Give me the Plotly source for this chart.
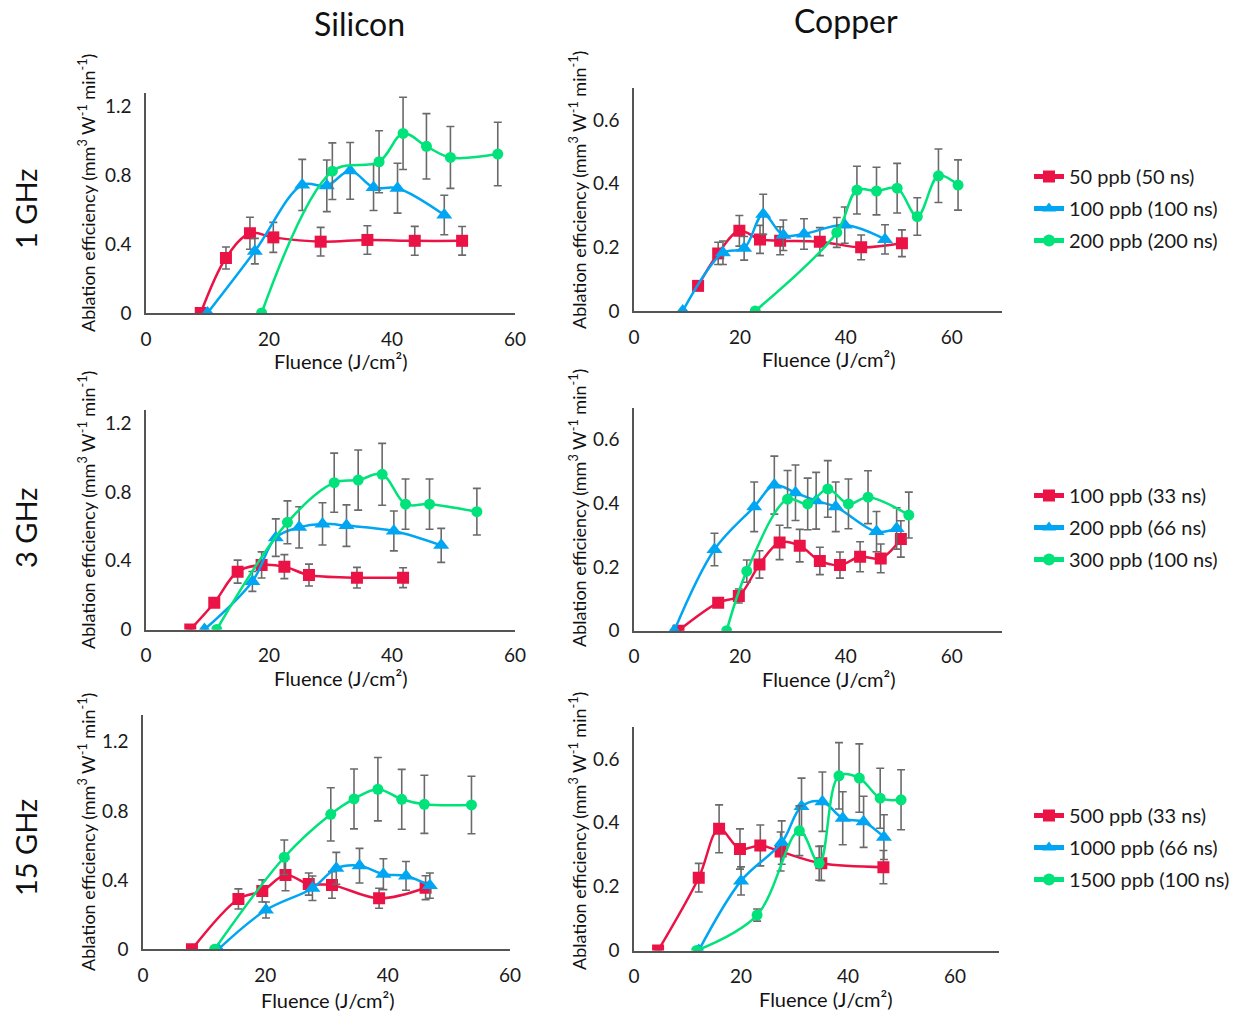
import plotly.graph_objects as go

W, H = 1235, 1017
FONT = "Lato"
RED, BLUE, GREEN = "#EB1245", "#00A6F2", "#00E27A"

# ---------------- data ----------------
# Silicon 1 GHz
si1_red_x = [8.9, 13.0, 16.9, 20.7, 28.4, 36.0, 43.7, 51.4]
si1_red_y = [0.0, 0.32, 0.464, 0.44, 0.415, 0.425, 0.42, 0.42]
si1_red_e = [0, 0.064, 0.093, 0.087, 0.083, 0.083, 0.084, 0.083]
si1_blue_x = [10.0, 17.7, 25.4, 29.4, 33.2, 37.0, 40.9, 48.5]
si1_blue_y = [0.0, 0.36, 0.745, 0.74, 0.827, 0.73, 0.726, 0.57]
si1_blue_e = [0, 0.074, 0.149, 0.15, 0.165, 0.134, 0.145, 0.115]
si1_green_x = [18.8, 30.3, 37.9, 41.8, 45.6, 49.5, 57.2]
si1_green_y = [0.0, 0.825, 0.88, 1.045, 0.97, 0.905, 0.925]
si1_green_e = [0, 0.165, 0.18, 0.21, 0.19, 0.18, 0.185]

# Copper 1 GHz
cu1_red_x = [12.1, 15.9, 19.9, 23.8, 27.6, 35.1, 42.9, 50.6]
cu1_red_y = [0.079, 0.181, 0.252, 0.225, 0.221, 0.218, 0.2, 0.213]
cu1_red_e = [0, 0.035, 0.048, 0.044, 0.044, 0.044, 0.039, 0.042]
cu1_blue_x = [9.2, 16.8, 20.8, 24.4, 28.2, 32.1, 39.8, 47.4]
cu1_blue_y = [0.0, 0.183, 0.197, 0.304, 0.238, 0.242, 0.27, 0.225]
cu1_blue_e = [0, 0.037, 0.037, 0.063, 0.048, 0.048, 0.057, 0.046]
cu1_green_x = [22.9, 38.3, 42.1, 45.8, 49.7, 53.5, 57.5, 61.2]
cu1_green_y = [0.0, 0.247, 0.38, 0.377, 0.386, 0.297, 0.425, 0.396]
cu1_green_e = [0, 0.047, 0.075, 0.075, 0.078, 0.059, 0.084, 0.079]

# Silicon 3 GHz
si3_red_x = [7.2, 11.1, 14.9, 18.8, 22.5, 26.5, 34.3, 41.8]
si3_red_y = [0.0, 0.156, 0.337, 0.376, 0.366, 0.317, 0.302, 0.302]
si3_red_e = [0, 0, 0.067, 0.076, 0.07, 0.064, 0.06, 0.058]
si3_blue_x = [9.5, 17.3, 21.1, 24.9, 28.7, 32.6, 40.3, 48.0]
si3_blue_y = [0.0, 0.28, 0.535, 0.595, 0.615, 0.605, 0.574, 0.49]
si3_blue_e = [0, 0.058, 0.109, 0.12, 0.123, 0.121, 0.116, 0.099]
si3_green_x = [11.5, 23.0, 30.6, 34.5, 38.4, 42.2, 46.1, 53.8]
si3_green_y = [0.0, 0.624, 0.855, 0.87, 0.904, 0.73, 0.73, 0.686]
si3_green_e = [0, 0.125, 0.172, 0.175, 0.18, 0.146, 0.146, 0.136]

# Copper 3 GHz
cu3_red_x = [8.4, 15.9, 19.8, 23.7, 27.5, 31.3, 35.1, 38.9, 42.7, 46.6, 50.4]
cu3_red_y = [0.0, 0.088, 0.109, 0.208, 0.277, 0.267, 0.219, 0.206, 0.232, 0.227, 0.288]
cu3_red_e = [0, 0, 0.022, 0.043, 0.054, 0.051, 0.043, 0.041, 0.047, 0.045, 0.057]
cu3_blue_x = [7.6, 15.2, 22.7, 26.5, 30.5, 34.4, 38.1, 45.8, 49.6]
cu3_blue_y = [0.0, 0.255, 0.389, 0.457, 0.433, 0.408, 0.389, 0.311, 0.321]
cu3_blue_e = [0, 0.051, 0.078, 0.091, 0.087, 0.089, 0.078, 0.063, 0.065]
cu3_green_x = [17.5, 21.3, 29.0, 32.8, 36.6, 40.5, 44.2, 51.9]
cu3_green_y = [0.0, 0.187, 0.413, 0.398, 0.445, 0.398, 0.419, 0.363]
cu3_green_e = [0, 0.035, 0.09, 0.081, 0.089, 0.078, 0.083, 0.072]

# Silicon 15 GHz
si15_red_x = [8.0, 15.6, 19.5, 23.3, 27.1, 30.9, 38.6, 46.2]
si15_red_y = [0.0, 0.291, 0.337, 0.429, 0.377, 0.372, 0.295, 0.356]
si15_red_e = [0, 0.058, 0.064, 0.091, 0.064, 0.077, 0.058, 0.069]
si15_blue_x = [12.3, 20.1, 27.7, 31.6, 35.4, 39.3, 43.0, 46.9]
si15_blue_y = [0.0, 0.227, 0.353, 0.468, 0.483, 0.434, 0.424, 0.368]
si15_blue_e = [0, 0.046, 0.071, 0.092, 0.1, 0.089, 0.083, 0.073]
si15_green_x = [11.7, 23.1, 30.7, 34.5, 38.4, 42.3, 46.0, 53.7]
si15_green_y = [0.0, 0.532, 0.78, 0.869, 0.925, 0.867, 0.838, 0.834]
si15_green_e = [0, 0.1, 0.154, 0.173, 0.183, 0.173, 0.168, 0.166]

# Copper 15 GHz
cu15_red_x = [4.5, 12.1, 15.9, 19.8, 23.6, 27.4, 35.0, 46.6]
cu15_red_y = [0.0, 0.228, 0.381, 0.318, 0.329, 0.31, 0.273, 0.261]
cu15_red_e = [0, 0.045, 0.075, 0.063, 0.064, 0.061, 0.054, 0.052]
cu15_blue_x = [12.1, 20.0, 27.6, 31.3, 35.2, 39.0, 42.9, 46.7]
cu15_blue_y = [0.0, 0.218, 0.338, 0.451, 0.466, 0.414, 0.403, 0.355]
cu15_blue_e = [0, 0.044, 0.068, 0.089, 0.093, 0.083, 0.08, 0.07]
cu15_green_x = [11.7, 23.0, 30.9, 34.6, 38.3, 42.1, 46.0, 49.9]
cu15_green_y = [0.0, 0.111, 0.375, 0.273, 0.547, 0.54, 0.477, 0.472]
cu15_green_e = [0, 0.019, 0.078, 0.053, 0.104, 0.107, 0.094, 0.094]

names_row1 = ["50 ppb (50 ns)", "100 ppb (100 ns)", "200 ppb (200 ns)"]
names_row2 = ["100 ppb (33 ns)", "200 ppb (66 ns)", "300 ppb (100 ns)"]
names_row3 = ["500 ppb (33 ns)", "1000 ppb (66 ns)", "1500 ppb (100 ns)"]

col_titles = ["Silicon", "Copper"]
row_titles = ["1 GHz", "3 GHz", "15 GHz"]
si_ticks = [0, 0.4, 0.8, 1.2]
si_ticktext = ["0", "0.4", "0.8", "1.2"]
cu_ticks = [0, 0.2, 0.4, 0.6]
cu_ticktext = ["0", "0.2", "0.4", "0.6"]
x_ticks = [0, 20, 40, 60]

# ---------------- layout helpers ----------------
def px_x(p):
    return p / W

def px_y(p):
    return 1 - p / H

panels = [
    dict(xd=(146, 515), yd=(93, 313), xr=[0, 60], yr=[0, 1.28], yt=si_ticks, ytt=si_ticktext),
    dict(xd=(634, 1002), yd=(88.3, 311), xr=[0, 69.5], yr=[0, 0.7], yt=cu_ticks, ytt=cu_ticktext),
    dict(xd=(146, 515), yd=(409.7, 629.5), xr=[0, 60], yr=[0, 1.28], yt=si_ticks, ytt=si_ticktext),
    dict(xd=(634, 1002), yd=(407.7, 630.7), xr=[0, 69.5], yr=[0, 0.7], yt=cu_ticks, ytt=cu_ticktext),
    dict(xd=(143, 510), yd=(715, 949.3), xr=[0, 60], yr=[0, 1.354], yt=si_ticks, ytt=si_ticktext),
    dict(xd=(634, 999), yd=(727, 950.5), xr=[0, 68.2], yr=[0, 0.7], yt=cu_ticks, ytt=cu_ticktext),
]

series = [
    [(si1_red_x, si1_red_y, si1_red_e), (si1_blue_x, si1_blue_y, si1_blue_e), (si1_green_x, si1_green_y, si1_green_e)],
    [(cu1_red_x, cu1_red_y, cu1_red_e), (cu1_blue_x, cu1_blue_y, cu1_blue_e), (cu1_green_x, cu1_green_y, cu1_green_e)],
    [(si3_red_x, si3_red_y, si3_red_e), (si3_blue_x, si3_blue_y, si3_blue_e), (si3_green_x, si3_green_y, si3_green_e)],
    [(cu3_red_x, cu3_red_y, cu3_red_e), (cu3_blue_x, cu3_blue_y, cu3_blue_e), (cu3_green_x, cu3_green_y, cu3_green_e)],
    [(si15_red_x, si15_red_y, si15_red_e), (si15_blue_x, si15_blue_y, si15_blue_e), (si15_green_x, si15_green_y, si15_green_e)],
    [(cu15_red_x, cu15_red_y, cu15_red_e), (cu15_blue_x, cu15_blue_y, cu15_blue_e), (cu15_green_x, cu15_green_y, cu15_green_e)],
]
row_names = [names_row1, names_row2, names_row3]
legend_ids = ["legend", "legend2", "legend3"]

colors = [RED, BLUE, GREEN]
symbols = ["square", "triangle-up", "circle"]
msizes = [12, 14, 11]
TXT = "#1a1a1a"
TICK_SIZE = 19

fig = go.Figure()
layout = dict(
    width=W, height=H, margin=dict(l=0, r=0, t=0, b=0, pad=0, autoexpand=False),
    paper_bgcolor="white", plot_bgcolor="white",
    font=dict(family=FONT, size=TICK_SIZE, color=TXT),
)

for i, p in enumerate(panels):
    ax = "" if i == 0 else str(i + 1)
    row = i // 2
    is_si = (i % 2 == 0)
    for k, (xs, ys, es) in enumerate(series[i]):
        fig.add_trace(go.Scatter(
            x=xs, y=ys, mode="lines+markers",
            name=row_names[row][k],
            legend=legend_ids[row],
            legendgroup=f"r{row}k{k}",
            showlegend=is_si,
            line=dict(color=colors[k], width=2.5, shape="spline", smoothing=1.0),
            marker=dict(symbol=symbols[k], size=msizes[k], color=colors[k]),
            error_y=dict(type="data", array=es, visible=True, color="#6a6a6a", thickness=1.6, width=4),
            xaxis="x" + ax, yaxis="y" + ax,
        ))
    layout["xaxis" + ax] = dict(
        domain=[px_x(p["xd"][0]), px_x(p["xd"][1])], range=p["xr"],
        anchor="y" + ax, tickvals=x_ticks, ticktext=[str(t) for t in x_ticks],
        showgrid=False, zeroline=False, showline=True, linecolor="#555", linewidth=1.5,
        ticks="", ticklabelstandoff=8, tickfont=dict(size=TICK_SIZE, family=FONT, color=TXT),
        automargin=False,
    )
    layout["yaxis" + ax] = dict(
        domain=[px_y(p["yd"][1]), px_y(p["yd"][0])], range=p["yr"],
        anchor="x" + ax, tickvals=p["yt"], ticktext=p["ytt"],
        showgrid=False, zeroline=False, showline=True, linecolor="#555", linewidth=1.5,
        ticks="", ticklabelstandoff=9, tickfont=dict(size=TICK_SIZE, family=FONT, color=TXT),
        automargin=False,
    )

# legends
legend_tops = [157, 476, 796]
for r, lid in enumerate(legend_ids):
    layout[lid] = dict(
        x=px_x(1029), y=px_y(legend_tops[r]), xanchor="left", yanchor="top",
        bgcolor="rgba(0,0,0,0)", font=dict(family=FONT, size=20, color=TXT),
        tracegroupgap=3, itemsizing="constant",
    )

ann = []
def add_text(text, xp, yp, size, angle=0):
    ann.append(dict(text=text, x=px_x(xp), y=px_y(yp), xref="paper", yref="paper",
                    xanchor="center", yanchor="middle", showarrow=False, textangle=angle,
                    font=dict(size=size, family=FONT, color="#111")))

# column titles
add_text(col_titles[0], 360, 23, 32)
add_text(col_titles[1], 846, 21, 32)
# row titles
for r, yc in enumerate([209, 528, 848]):
    add_text(row_titles[r], 25, yc, 29, -90)
# x axis titles
xt_pos = [(341, 361), (829, 359), (341, 678), (829, 679), (328, 1000), (826, 999)]
for (xp, yp) in xt_pos:
    add_text("Fluence (J/cm²)", xp, yp, 20)
# y axis titles
ytitle = "Ablation efficiency (mm<sup>3</sup> W<sup>-1</sup> min<sup>-1</sup>)"
yt_pos = [(87, 193), (578, 190), (87, 510), (578, 508), (87, 832), (578, 831)]
for (xp, yp) in yt_pos:
    add_text(ytitle, xp, yp, 18, -90)

layout["annotations"] = ann
fig.update_layout(**layout)
# remove the browser's default 8px body margin so the figure sits at the page origin
fig.write_html("out.html", config={"displayModeBar": False},
               post_script="document.body.style.margin='0px';")
